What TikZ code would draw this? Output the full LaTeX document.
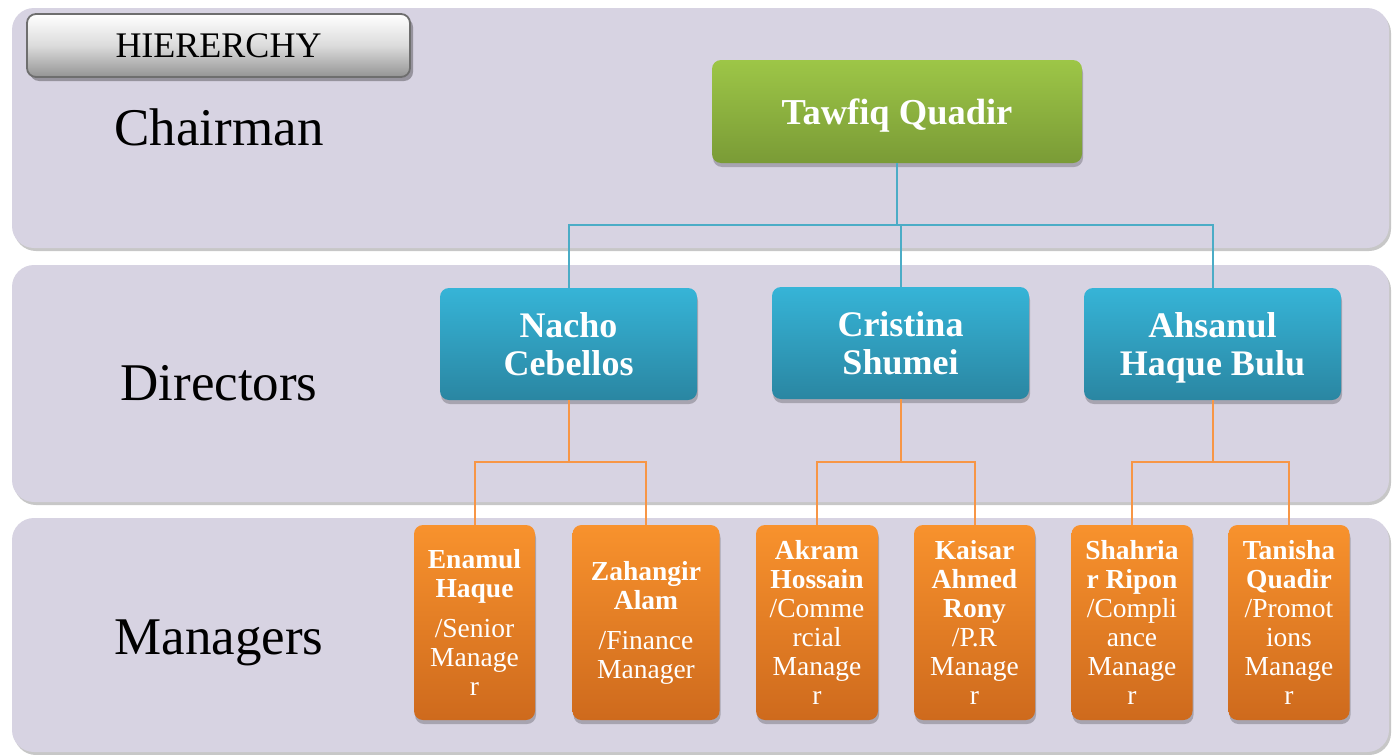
\documentclass[tikz,border=0pt]{standalone}
\usepackage{fontspec}
\setmainfont{Liberation Serif}
\usetikzlibrary{shadows}
\definecolor{bandc}{HTML}{D7D3E2}
\definecolor{grtop}{HTML}{9DC647}
\definecolor{grbot}{HTML}{7A9B36}
\definecolor{bltop}{HTML}{36B4D7}
\definecolor{blbot}{HTML}{2A86A2}
\definecolor{ortop}{HTML}{F8922D}
\definecolor{orbot}{HTML}{CE6A1D}
\definecolor{blline}{HTML}{4BACC6}
\definecolor{orline}{HTML}{F79646}
\definecolor{hbord}{HTML}{6E6E6E}
\newcommand{\nodepth}[1]{\raisebox{0pt}[\height][0pt]{#1}}
\begin{document}
\begin{tikzpicture}[x=1pt,y=-1pt,
  band/.style={fill=bandc, rounded corners=22pt,
    drop shadow={shadow xshift=2pt, shadow yshift=-3pt, fill=black, opacity=0.22}},
  softshadow/.style={drop shadow={shadow xshift=1pt, shadow yshift=-4pt, fill=black, opacity=0.22}},
  box/.style={rectangle, rounded corners=9pt, inner sep=0pt, align=center, text=white, softshadow},
  chairbox/.style={box, top color=grtop, bottom color=grbot, minimum width=370pt, minimum height=103pt,
    font=\bfseries\fontsize{36.5}{38}\selectfont},
  dirbox/.style={box, top color=bltop, bottom color=blbot, minimum width=257pt, minimum height=112pt,
    font=\bfseries\fontsize{36}{38}\selectfont},
  mgrbox/.style={box, top color=ortop, bottom color=orbot, minimum height=195pt,
    font=\fontsize{27.5}{29}\selectfont},
  level/.style={anchor=base, font=\fontsize{53}{56}\selectfont},
  blconn/.style={draw=blline, line width=2pt},
  orconn/.style={draw=orline, line width=2pt}]
\useasboundingbox (0,0) rectangle (1398,755);
\fill[white] (0,0) rectangle (1398,755);

% bands
\path[band] (12,8) rectangle (1389,248);
\path[band] (12,265) rectangle (1389,502);
\path[band] (12,518) rectangle (1389,752);

% hierarchy title
\node[rectangle, rounded corners=9pt, draw=hbord, line width=1.8pt,
  top color=white, bottom color=black!42, middle color=black!14,
  minimum width=383pt, minimum height=63pt, inner sep=0pt,
  drop shadow={shadow xshift=3pt, shadow yshift=-4pt, fill=black, opacity=0.3},
  font=\fontsize{36}{38}\selectfont] (title) at (218.5,45.5) {HIERERCHY};

% level labels
\node[level] (lchair) at (219,145) {Chairman};
\node[level] (ldir) at (219,400) {Directors};
\node[level] (lmgr) at (219,654) {Managers};

% chairman
\node[chairbox] (ch) at (897,111.5) {\nodepth{Tawfiq Quadir}};

% directors
\node[dirbox] (d1) at (568.5,344) {Nacho\\Cebellos};
\node[dirbox] (d2) at (900.5,343) {Cristina\\Shumei};
\node[dirbox] (d3) at (1212.5,344) {Ahsanul\\\nodepth{Haque Bulu}};

% managers
\node[mgrbox, minimum width=121pt] (m1) at (474.5,622.5)
  {\textbf{Enamul}\\\textbf{Haque}\\[11pt]/Senior\\Manage\\r};
\node[mgrbox, minimum width=147pt] (m2) at (646,622.5)
  {\textbf{Zahangir}\\\textbf{Alam}\\[11pt]/Finance\\Manager};
\node[mgrbox, minimum width=122pt] (m3) at (817,622.5)
  {\textbf{Akram}\\\textbf{Hossain}\\/Comme\\rcial\\Manage\\r};
\node[mgrbox, minimum width=121pt] (m4) at (974.5,622.5)
  {\textbf{Kaisar}\\\textbf{Ahmed}\\\textbf{Rony}\\/P.R\\Manage\\r};
\node[mgrbox, minimum width=121pt] (m5) at (1132,622.5)
  {\textbf{Shahria}\\\textbf{r Ripon}\\/Compli\\ance\\Manage\\r};
\node[mgrbox, minimum width=121pt] (m6) at (1289,622.5)
  {\textbf{Tanisha}\\\textbf{Quadir}\\/Promot\\ions\\Manage\\r};

% chairman -> directors
\coordinate (cj) at (897,225);
\path[blconn] (ch.south) -- (cj);
\path[blconn] (cj) -| (d1.north);
\path[blconn] (cj) -| (d3.north);
\path[blconn] (cj) -| (d2.north);

% directors -> managers
\coordinate (j1) at (568.5,462);
\coordinate (j2) at (900.5,462);
\coordinate (j3) at (1212.5,462);
\path[orconn] (d1.south) -- (j1);
\path[orconn] (j1) -| (m1.north);
\path[orconn] (j1) -| (m2.north);
\path[orconn] (d2.south) -- (j2);
\path[orconn] (j2) -| (m3.north);
\path[orconn] (j2) -| (m4.north);
\path[orconn] (d3.south) -- (j3);
\path[orconn] (j3) -| (m5.north);
\path[orconn] (j3) -| (m6.north);
\end{tikzpicture}
\end{document}
